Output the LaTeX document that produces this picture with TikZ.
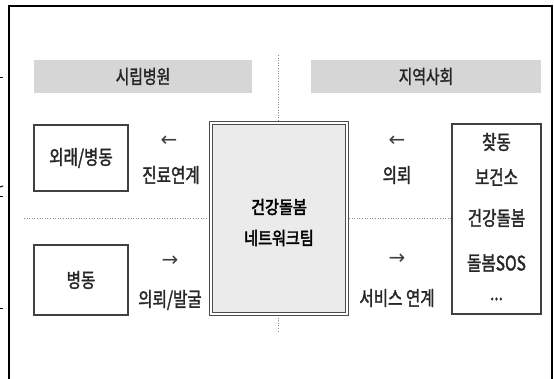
\documentclass[tikz,border=0pt]{standalone}
\usepackage{fontspec}
\setmainfont{Noto Sans CJK KR}[FakeStretch=0.78, FakeBold=1.6]
\newfontfamily\heavyfont{Noto Sans CJK KR}[FakeStretch=0.84, FakeBold=2.6]
\newfontfamily\arrowfont{DejaVu Sans}
\begin{document}
\begin{tikzpicture}[x=1pt,y=-1pt,
  lbl/.style={font=\fontsize{20}{22}\selectfont, text=black!85, inner sep=0pt},
  arr/.style={font=\arrowfont\fontsize{20}{22}\selectfont, text=black!75, inner sep=0pt},
  header/.style={fill=black!16, draw=none, inner sep=0pt, font=\fontsize{19}{21}\selectfont, text=black!85},
  plainbox/.style={draw=black!75, line width=1.2pt, fill=white, inner sep=0pt, font=\fontsize{20}{22}\selectfont, text=black!85},
  centerbox/.style={draw=black!70, line width=0.8pt, double=white, double distance=1.6pt, fill=black!8, inner sep=0pt},
  sep/.style={draw=black!45, line width=0.6pt, dotted},
  frame/.style={draw=black, line width=1.2pt},
  tick/.style={draw=black, line width=1pt}]
\useasboundingbox (0,0) rectangle (554,379);
% outer frame
\coordinate (f1) at (9,379);
\coordinate (f2) at (9,6);
\coordinate (f3) at (552,6);
\coordinate (f4) at (552,379);
\draw[frame] (f1) -- (f2) -- (f3) -- (f4);
% margin ticks
\coordinate (t1a) at (0,78);  \coordinate (t1b) at (3,78);
\coordinate (t2a) at (0,187); \coordinate (t2b) at (3,186);
\coordinate (t3a) at (0,197); \coordinate (t3b) at (3,197);
\coordinate (t4a) at (0,308); \coordinate (t4b) at (3,308);
\draw[tick] (t1a) -- (t1b);
\draw[tick] (t2a) -- (t2b);
\draw[tick] (t3a) -- (t3b);
\draw[tick] (t4a) -- (t4b);
% dotted separators
\coordinate (h1) at (24,218);
\coordinate (h2) at (451,218);
\coordinate (v1) at (278,55);
\coordinate (v2) at (278,333);
\draw[sep] (h1) -- (h2);
\draw[sep] (v1) -- (v2);
% headers
\node[header, minimum width=218pt, minimum height=33pt] (hosp) at (143,76.5) {시립병원};
\node[header, minimum width=230pt, minimum height=33pt] (comm) at (426,76.5) {지역사회};
% left boxes
\node[plainbox, minimum width=94pt, minimum height=66pt] (outp) at (81,158) {외래/병동};
\node[plainbox, minimum width=94pt, minimum height=70pt] (ward) at (81,280) {병동};
% center box
\node[centerbox, minimum width=136pt, minimum height=191pt] (team) at (279,218.5) {};
\node[lbl, font=\heavyfont\fontsize{18}{20}\selectfont, text=black] (t1) at (279,207) {건강돌봄};
\node[lbl, font=\heavyfont\fontsize{18}{20}\selectfont, text=black] (t2) at (279,238) {네트워크팀};
% right box
\node[plainbox, minimum width=89pt, minimum height=190pt] (res) at (496.5,219) {};
\node[lbl] (r1) at (496.5,142) {찾동};
\node[lbl] (r2) at (496.5,177) {보건소};
\node[lbl] (r3) at (496.5,218) {건강돌봄};
\node[lbl] (r4) at (496.5,263) {돌봄SOS};
\node[lbl] (r5) at (496.5,299) {...};
% flow labels left
\node[arr] (la1) at (169,141) {←};
\node[lbl] (ll1) at (171,175) {진료연계};
\node[arr] (la2) at (170,261) {→};
\node[lbl] (ll2) at (170,300) {의뢰/발굴};
% flow labels right
\node[arr] (ra1) at (397,141) {←};
\node[lbl] (rl1) at (397,175) {의뢰};
\node[arr] (ra2) at (397,259) {→};
\node[lbl] (rl2) at (397,298) {서비스 연계};
\end{tikzpicture}
\end{document}
